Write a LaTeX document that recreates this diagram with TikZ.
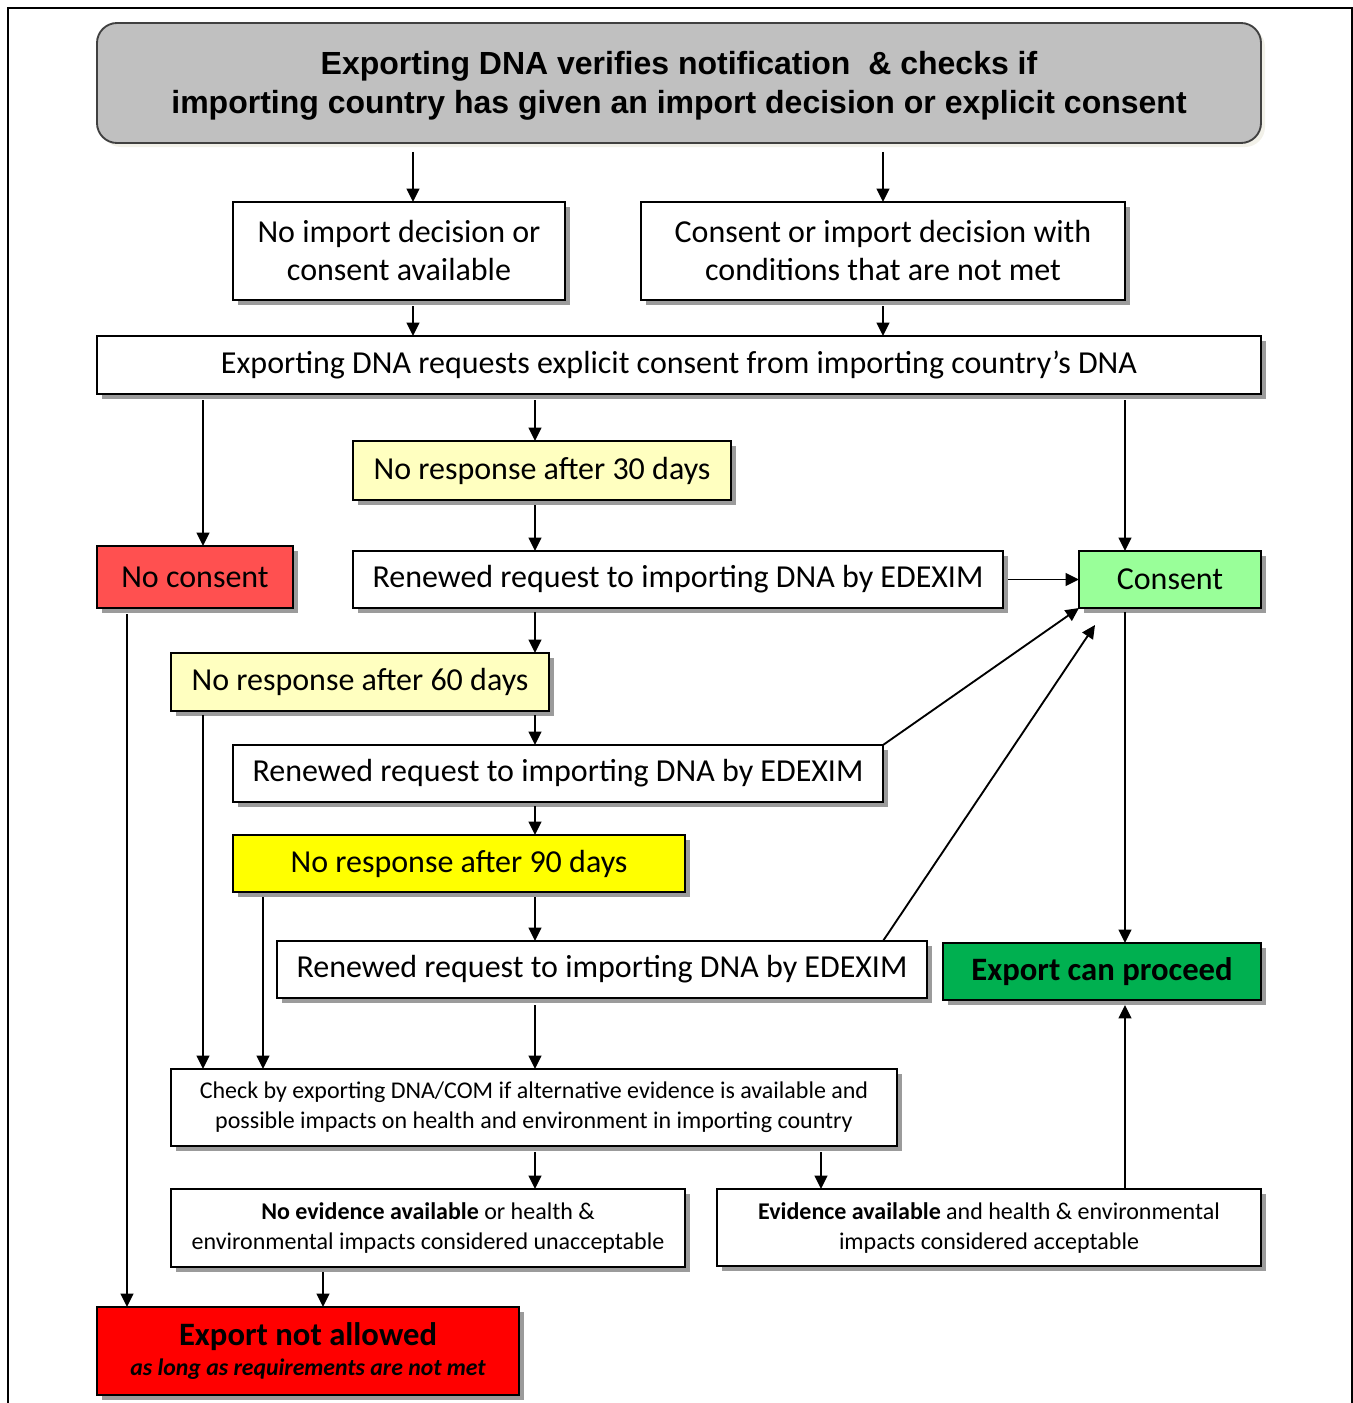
\documentclass[tikz,border=0pt]{standalone}
\usepackage{fontspec}
\setmainfont{Carlito}
\newfontfamily\arialfont{Liberation Sans}
\usetikzlibrary{arrows.meta,calc,shadows}
\definecolor{titlegray}{HTML}{C0C0C0}
\definecolor{paleyellow}{HTML}{FFFFC0}
\definecolor{brightyellow}{HTML}{FFFF00}
\definecolor{softred}{HTML}{FF5050}
\definecolor{lightgreen}{HTML}{99FF99}
\definecolor{okgreen}{HTML}{00B050}
\definecolor{stopred}{HTML}{FF0000}
\definecolor{titleshadow}{HTML}{E6E3D3}
\begin{document}
\begin{tikzpicture}[x=0.75pt,y=-0.75pt,
  box/.style={draw=black, line width=1.4pt, fill=white, inner sep=0pt, outer sep=0pt,
    align=center, font=\fontsize{24}{28.5}\selectfont,
    drop shadow={shadow xshift=3.5pt, shadow yshift=-3.5pt, fill=black!60, opacity=0.65}},
  small/.style={font=\fontsize{18}{22.5}\selectfont},
  sz/.style 2 args={minimum width=#1*0.75pt, minimum height=#2*0.75pt},
  arr/.style={line width=1.4pt, -{Triangle[length=10pt,width=9.5pt]}},
]
\useasboundingbox (0,0) rectangle (1353,1403);
% page frame
\draw[line width=1.6pt] (8,1410) -- (8,8) -- (1352,8) -- (1352,1410);

% title
\node[draw=black!75, line width=1.4pt, fill=titlegray, rounded corners=15pt, sz={1164}{120},
  align=center, inner sep=0pt,
  font=\arialfont\bfseries\fontsize{24}{29}\selectfont,
  drop shadow={shadow xshift=3pt, shadow yshift=-3pt, fill=titleshadow}]
  (top) at (679,83) {\rule{0pt}{22pt}Exporting DNA verifies notification \ \& checks if\\importing country has given an import decision or explicit consent};

\node[box, sz={332}{98}] (nodec) at (399,251) {No import decision or\\consent available};
\node[box, sz={484}{98}] (cond) at (883,251) {Consent or import decision with\\conditions that are not met};
\node[box, sz={1164}{58}] (req) at (679,365) {Exporting DNA requests explicit consent from importing country’s DNA};
\node[box, fill=paleyellow, sz={378}{59}] (r30) at (542,470.5) {No response after 30 days};
\node[box, fill=softred, sz={196}{62}] (nocons) at (195,577) {No consent};
\node[box, sz={650}{57}] (ren1) at (678,579.5) {Renewed request to importing DNA by EDEXIM};
\node[box, fill=lightgreen, sz={182}{57}] (cons) at (1170,579.5) {Consent};
\node[box, fill=paleyellow, sz={378}{58}] (r60) at (360,682) {No response after 60 days};
\node[box, sz={650}{57}] (ren2) at (558,773.5) {Renewed request to importing DNA by EDEXIM};
\node[box, fill=brightyellow, sz={452}{57}] (r90) at (459,863.5) {No response after 90 days};
\node[box, sz={650}{57}] (ren3) at (602,969.5) {Renewed request to importing DNA by EDEXIM};
\node[box, fill=okgreen, sz={318}{57}, font=\bfseries\fontsize{24.5}{28}\selectfont] (proceed) at (1102,971.5) {Export can proceed};
\node[box, small, sz={726}{77}] (check) at (534,1107.5) {Check by exporting DNA/COM if alternative evidence is available and\\possible impacts on health and environment in importing country};
\node[box, small, sz={514}{78}] (noev) at (428,1228) {\textbf{No evidence available} or health \&\\environmental impacts considered unacceptable};
\node[box, small, sz={544}{77}] (ev) at (989,1227.5) {\textbf{Evidence available} and health \& environmental\\impacts considered acceptable};
\node[box, fill=stopred, sz={422}{88}, font=\bfseries] (stop) at (308,1351)
  {\fontsize{24.5}{24}\selectfont Export not allowed\\[4.5pt]\fontsize{17.8}{24}\selectfont\itshape as long as requirements are not met};

% connectors
\draw[arr] ($(top.south -| nodec.north)+(14,8)$) -- ($(nodec.north)+(14,0)$);
\draw[arr] ($(top.south -| cond.north)+(0,8)$) -- (cond.north);
\draw[arr] ($(nodec.south)+(14,6)$) -- ($(nodec.south |- req.north)+(14,0)$);
\draw[arr] ($(cond.south)+(0,6)$) -- (cond.south |- req.north);
\draw[arr] ($(req.south -| nocons.north)+(8,6)$) -- ($(nocons.north)+(8,0)$);
\draw[arr] ($(req.south -| r30.north)+(-7,6)$) -- ($(r30.north)+(-7,0)$);
\draw[arr] ($(req.south -| cons.north)+(-45,6)$) -- ($(cons.north)+(-45,0)$);
\draw[arr] ($(r30.south)+(-7,5)$) -- ($(r30.south |- ren1.north)+(-7,0)$);
\draw[arr] ($(ren1.east)+(5,0)$) -- (cons.west);
\draw[arr] ($(ren1.south)+(-143,4)$) -- ($(ren1.south |- r60.north)+(-143,0)$);
\draw[arr] ($(r60.south -| ren2.north)+(-23,4)$) -- ($(ren2.north)+(-23,0)$);
\draw[arr] (ren2.north east) -- (cons.south west);
\draw[arr] ($(ren2.south)+(-23,4)$) -- ($(ren2.south |- r90.north)+(-23,0)$);
\draw[arr] ($(r90.south -| ren3.north)+(-67,5)$) -- ($(ren3.north)+(-67,0)$);
\draw[arr] ($(ren3.north)+(281,0)$) -- ($(cons.south west)+(16,17)$);
\draw[arr] ($(cons.south)+(-45,4)$) -- ($(cons.south |- proceed.north)+(-45,0)$);
\draw[arr] ($(ren3.south)+(-67,7)$) -- ($(ren3.south |- check.north)+(-67,0)$);
\draw[arr] ($(r60.south)+(-157,4)$) -- ($(r60.south |- check.north)+(-157,0)$);
\draw[arr] ($(r90.south)+(-196,5)$) -- ($(r90.south |- check.north)+(-196,0)$);
\draw[arr] ($(nocons.south)+(-68,6)$) -- ($(nocons.south |- stop.north)+(-68,0)$);
\draw[arr] ($(check.south)+(1,6)$) -- ($(check.south |- noev.north)+(1,0)$);
\draw[arr] ($(check.south -| ev.north)+(-168,6)$) -- ($(ev.north)+(-168,0)$);
\draw[arr] ($(noev.south)+(-105,5)$) -- ($(noev.south |- stop.north)+(-105,0)$);
\draw[arr] ($(proceed.south |- ev.north)+(23,0)$) -- ($(proceed.south)+(23,5)$);
\end{tikzpicture}
\end{document}
